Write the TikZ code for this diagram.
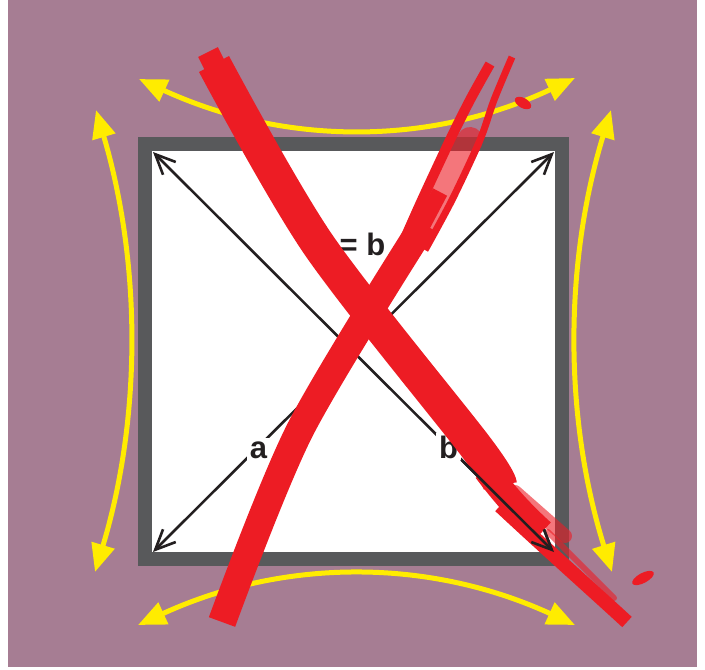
\documentclass[tikz,border=0pt]{standalone}
\usepackage{fontspec}
\setmainfont{Liberation Sans}
\usetikzlibrary{arrows.meta}
\definecolor{bgmauve}{HTML}{A67D93}
\definecolor{framegray}{HTML}{58595B}
\definecolor{inkblack}{HTML}{231F20}
\definecolor{signyellow}{HTML}{FFEC00}
\definecolor{crossred}{HTML}{ED1C24}
\begin{document}
\begin{tikzpicture}[x=1pt,y=-1pt,
  dimarrow/.style={draw=inkblack, line width=2.6pt,
    {Straight Barb[length=20pt,width=18pt]}-{Straight Barb[length=20pt,width=18pt]}},
  dimlabel/.style={text=inkblack, font=\fontsize{31}{37}\selectfont\bfseries,
    inner sep=3pt, anchor=base},
  yarrow/.style={draw=signyellow, line width=5pt,
    {Triangle[length=28pt,width=23pt]}-{Triangle[length=28pt,width=23pt]}},
  redstroke/.style={draw=crossred, line cap=butt, line join=round},
  redspeckle/.style={draw=crossred, draw opacity=0.6, line cap=round, line join=round}
]
\useasboundingbox (0,0) rectangle (705,670);
\fill[bgmauve] (8,0) rectangle (697,667);
% frame
\draw[framegray, line width=14pt, fill=white] (145,144) rectangle (562,559);
% corners
\coordinate (tl) at (153,152);
\coordinate (tr) at (554,152);
\coordinate (bl) at (153,552);
\coordinate (br) at (554,552);
\draw[dimarrow] (tl) -- (br);
\draw[dimarrow] (bl) -- (tr);
\node[dimlabel, fill=white] (la) at (258.5,458) {a};
\node[dimlabel, fill=white] (lb) at (448.5,458) {b};
\node[dimlabel] (lab) at (362.5,255) {= b};
% yellow arrows
\coordinate (t1) at (139,79);
\coordinate (t2) at (575,78);
\coordinate (b1) at (138,625);
\coordinate (b2) at (575,625);
\coordinate (l1) at (96,110);
\coordinate (l2) at (95,572);
\coordinate (r1) at (611,110);
\coordinate (r2) at (612,572);
\draw[yarrow] (t1) .. controls (285,146) and (430,146) .. (t2);
\draw[yarrow] (b1) .. controls (284,558) and (429,558) .. (b2);
\draw[yarrow] (l1) .. controls (141.5,264) and (141.5,418) .. (l2);
\draw[yarrow] (r1) .. controls (564,264) and (564,418) .. (r2);
% red cross, stroke 1
\draw[redstroke, line width=22pt] (208,52) -- (222,80);
\draw[redstroke, line width=34pt] plot[smooth] coordinates {(214,64) (318,244) (476,447) (500,485)};
\draw[redstroke, line width=26pt] (486,470) .. controls (505,495) and (520,512) .. (542,532);
\draw[redspeckle, line width=14pt] (515,492) -- (565,536);
\draw[redstroke, line width=14pt] (500,506) .. controls (545,548) and (590,588) .. (627,622);
\draw[redspeckle, line width=6pt] (548,532) -- (614,598);
\fill[crossred, rotate around={28:(643,578)}] (643,578) ellipse (12 and 5);
% black diagonal seen through the speckled brush end
\draw[draw=inkblack, line width=2.6pt, -{Straight Barb[length=20pt,width=18pt]}] (lb) -- (br);
% red cross, stroke 2
\draw[redspeckle, line width=26pt] (470,140) -- (425,225);
\draw[redstroke, line width=10pt] plot[smooth] coordinates {(490,64) (470,100) (450,140) (422,200) (402,245)};
\draw[redstroke, line width=7pt] plot[smooth] coordinates {(512,57) (494,100) (480,140) (452,200) (425,250)};
\draw[redstroke, line width=16pt] (440,192) -- (420,230);
\draw[redstroke, line width=28pt] plot[smooth] coordinates {(424,224) (300,430) (222,622)};
\fill[crossred, rotate around={-30:(523,103)}] (523,103) ellipse (9 and 5);
\end{tikzpicture}
\end{document}
